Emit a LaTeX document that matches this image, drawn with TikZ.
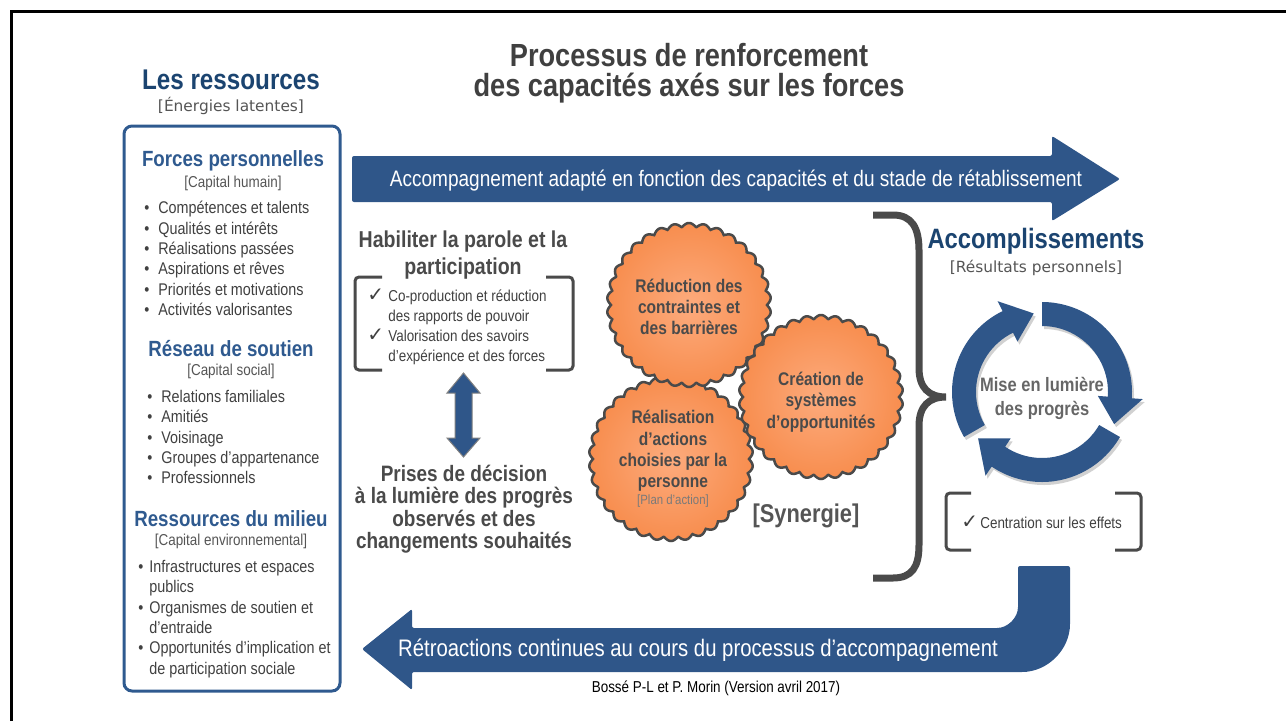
\documentclass[tikz,border=0pt]{standalone}
\usepackage{fontspec}
\setmainfont{Liberation Sans}[FakeStretch=0.85]
\newfontfamily\tagfont{DejaVu Sans}

\newlength\px
\setlength\px{0.02cm}
\newcommand\fsz[2]{\fontsize{#1\px}{#2\px}\selectfont}
\newcommand\itm[1]{\makebox[#1\px][l]{•}}
\newcommand\chk[1]{\makebox[#1\px][l]{\tagfont\fsz{20}{20}✓}}

\definecolor{navy}{HTML}{1B4470}
\definecolor{boxblue}{HTML}{2F5A8F}
\definecolor{arrowblue}{HTML}{2F5689}
\definecolor{inkgray}{HTML}{404040}
\definecolor{taggray}{HTML}{555555}
\definecolor{phasegray}{HTML}{4A4A4A}
\definecolor{cyclegray}{HTML}{666666}
\definecolor{plangray}{HTML}{7A7A7A}

\pgfdeclareradialshading{gearglow}{\pgfpoint{0bp}{0bp}}{rgb(0bp)=(0.99,0.67,0.49); rgb(26bp)=(0.97,0.55,0.30); rgb(46bp)=(0.96,0.46,0.20); rgb(50bp)=(0.96,0.46,0.20)}

\tikzset{
	restitle/.style={font=\fsz{28.5}{30}\bfseries, text=navy, inner sep=0},
	restag/.style={font=\tagfont\fsz{15.4}{18}, text=taggray, inner sep=0},
	sectitle/.style={font=\fsz{22}{24}\bfseries, text=boxblue, inner sep=0},
	capital/.style={font=\fsz{15.8}{18}, text=taggray, inner sep=0},
	itemlist/.style={font=\fsz{16.9}{20.4}, text=inkgray, align=left, inner sep=0, anchor=west},
	bandtext/.style={text=white, inner sep=0},
	phasetext/.style={font=\fsz{23}{27}\bfseries, text=phasegray, align=center, inner sep=0},
	checklist/.style={font=\fsz{15.8}{19.8}, text=inkgray, align=left, inner sep=0, anchor=west},
	bracketline/.style={draw=phasegray, line width=3\px, rounded corners=4\px},
	gearshape/.style={draw=phasegray, line width=2.5\px, shade, shading=gearglow},
	geartext/.style={font=\fsz{18.3}{21.3}\bfseries, text=phasegray, align=center, inner sep=0}
}

\begin{document}
\begin{tikzpicture}[x=0.02cm, y=0.02cm]
	\useasboundingbox (0,0) rectangle (1286,-721);
	\draw[line width=3\px] (11,-721) -- (11,-11.5) -- (1286,-11.5);

	\node[font=\fsz{32}{30}\bfseries, text=inkgray, align=center, inner sep=0] (titre) at (689,-73) {Processus de renforcement\\des capacités axés sur les forces};

	% les ressources
	\node[restitle] (ressources) at (231,-80) {Les ressources};
	\node[restag] (energies) at (231,-106) {[Énergies latentes]};
	\draw[boxblue, line width=3\px, rounded corners=8\px] (124,-126) rectangle (340,-691);

	\node[sectitle] (forces) at (233,-161) {Forces personnelles};
	\node[capital] (humain) at (233,-183) {[Capital humain]};
	\node[itemlist] (forceslist) at (144,-258.5) {\itm{14}Compétences et talents\\\itm{14}Qualités et intérêts\\\itm{14}Réalisations passées\\\itm{14}Aspirations et rêves\\\itm{14}Priorités et motivations\\\itm{14}Activités valorisantes};

	\node[sectitle] (reseau) at (231,-349) {Réseau de soutien};
	\node[capital] (social) at (231,-371) {[Capital social]};
	\node[itemlist] (reseaulist) at (147,-437) {\itm{14}Relations familiales\\\itm{14}Amitiés\\\itm{14}Voisinage\\\itm{14}Groupes d'appartenance\\\itm{14}Professionnels};

	\node[sectitle] (milieu) at (231,-519) {Ressources du milieu};
	\node[capital] (environnemental) at (231,-541) {[Capital environnemental]};
	\node[itemlist] (milieulist) at (138,-619) {\itm{11}Infrastructures et espaces\\\hspace*{11\px}publics\\\itm{11}Organismes de soutien et\\\hspace*{11\px}d'entraide\\\itm{11}Opportunités d'implication et\\\hspace*{11\px}de participation sociale};

	% bandeau du haut
	\fill[arrowblue, rounded corners=2\px] (352,-156) -- (1052,-156) -- (1052,-136) -- (1120,-179) -- (1052,-221) -- (1052,-202) -- (352,-202) -- cycle;
	\node[bandtext, font=\fsz{22.4}{24}] (accompagnement) at (736,-181) {Accompagnement adapté en fonction des capacités et du stade de rétablissement};

	% habiliter / prises de decision
	\node[phasetext] (habiliter) at (463,-255) {Habiliter la parole et la\\participation};
	\draw[bracketline] (382,-277) -- (355,-277) -- (355,-370) -- (382,-370);
	\draw[bracketline] (546,-277) -- (573,-277) -- (573,-370) -- (546,-370);
	\node[checklist] (habiliterlist) at (367,-327) {\chk{21}Co-production et réduction\\\hspace*{21\px}des rapports de pouvoir\\\chk{21}Valorisation des savoirs\\\hspace*{21\px}d'expérience et des forces};

	\filldraw[fill=arrowblue, draw=gray, line width=1\px] (463.5,-373) -- (480,-393) -- (472,-393) -- (472,-438) -- (480,-438) -- (463.5,-457) -- (447,-438) -- (455,-438) -- (455,-393) -- (447,-393) -- cycle;

	\node[phasetext, font=\fsz{22.3}{22.4}\bfseries] (decision) at (464,-509) {Prises de décision\\à la lumière des progrès\\observés et des\\changements souhaités};

	% engrenages
	\path[gearshape, shift={(671,-459)}] plot[domain=0:360, samples=721] (\x:{78+4*abs(sin(17*\x))}) -- cycle;
	\path[gearshape, shift={(689,-305)}] plot[domain=0:360, samples=721] (\x:{78+4*abs(sin(17*\x))}) -- cycle;
	\path[gearshape, shift={(821,-397)}] plot[domain=0:360, samples=721] (\x:{78+4*abs(sin(17*\x))}) -- cycle;

	\node[geartext] (reduction) at (689,-307) {Réduction des\\contraintes et\\des barrières};
	\node[geartext] (creation) at (821,-402) {Création de\\systèmes\\d'opportunités};
	\node[geartext] (realisation) at (673,-459) {Réalisation\\d'actions\\choisies par la\\personne\\[-4\px]{\fsz{13.4}{15}\mdseries\color{plangray}[Plan d'action]}};
	\node[font=\fsz{25.7}{28}\bfseries, text=taggray, inner sep=0] (synergie) at (806,-516) {[Synergie]};

	% accolade
	\draw[phasegray, line width=7\px] (873,-215) -- (893,-215) .. controls (912,-215) and (919,-228) .. (919,-250) -- (919,-368) .. controls (919,-388) and (929,-397) .. (946,-397) .. controls (929,-397) and (919,-406) .. (919,-426) -- (919,-545) .. controls (919,-567) and (912,-578) .. (893,-578) -- (873,-578);

	% accomplissements
	\node[restitle, font=\fsz{28}{30}\bfseries] (accomplissements) at (1036,-241) {Accomplissements};
	\node[restag] (resultats) at (1036,-268) {[Résultats personnels]};

	\begin{scope}[shift={(1044,-395)}, black, opacity=0.18]
		\fill (90:90) arc[start angle=90, end angle=-4, radius=90] -- (-4:101) -- (-24:79) -- (-4:56) -- (-4:66) arc[start angle=-4, end angle=90, radius=66] -- cycle;
		\fill (-30:90) arc[start angle=-30, end angle=-124, radius=90] -- (-124:101) -- (-144:79) -- (-124:56) -- (-124:66) arc[start angle=-124, end angle=-30, radius=66] -- cycle;
		\fill (210:90) arc[start angle=210, end angle=116, radius=90] -- (116:101) -- (96:79) -- (116:56) -- (116:66) arc[start angle=116, end angle=210, radius=66] -- cycle;
	\end{scope}
	\begin{scope}[shift={(1042,-392)}, arrowblue]
		\fill (90:90) arc[start angle=90, end angle=-4, radius=90] -- (-4:101) -- (-24:79) -- (-4:56) -- (-4:66) arc[start angle=-4, end angle=90, radius=66] -- cycle;
		\fill (-30:90) arc[start angle=-30, end angle=-124, radius=90] -- (-124:101) -- (-144:79) -- (-124:56) -- (-124:66) arc[start angle=-124, end angle=-30, radius=66] -- cycle;
		\fill (210:90) arc[start angle=210, end angle=116, radius=90] -- (116:101) -- (96:79) -- (116:56) -- (116:66) arc[start angle=116, end angle=210, radius=66] -- cycle;
	\end{scope}
	\node[font=\fsz{19.4}{24}\bfseries, text=cyclegray, align=center, inner sep=0] (lumiere) at (1042,-398) {Mise en lumière\\des progrès};

	\draw[bracketline] (971,-493) -- (946,-493) -- (946,-550) -- (971,-550);
	\draw[bracketline] (1115,-493) -- (1141,-493) -- (1141,-550) -- (1115,-550);
	\node[checklist] (effets) at (961,-522) {\chk{19}Centration sur les effets};

	% retroactions
	\fill[arrowblue, rounded corners=2\px] (1018,-566) -- (1018,-605) arc[start angle=0, end angle=-90, radius=23] -- (412,-628) -- (412,-609) -- (362,-649) -- (412,-690) -- (412,-672) -- (1020,-672) arc[start angle=-90, end angle=0, radius=50] -- (1070,-566) -- cycle;
	\node[bandtext, font=\fsz{23.9}{26}] (retroactions) at (698,-650) {Rétroactions continues au cours du processus d'accompagnement};

	\node[font=\fsz{15.8}{18}, inner sep=0] (auteurs) at (716,-688) {Bossé P-L et P. Morin (Version avril 2017)};
\end{tikzpicture}
\end{document}
